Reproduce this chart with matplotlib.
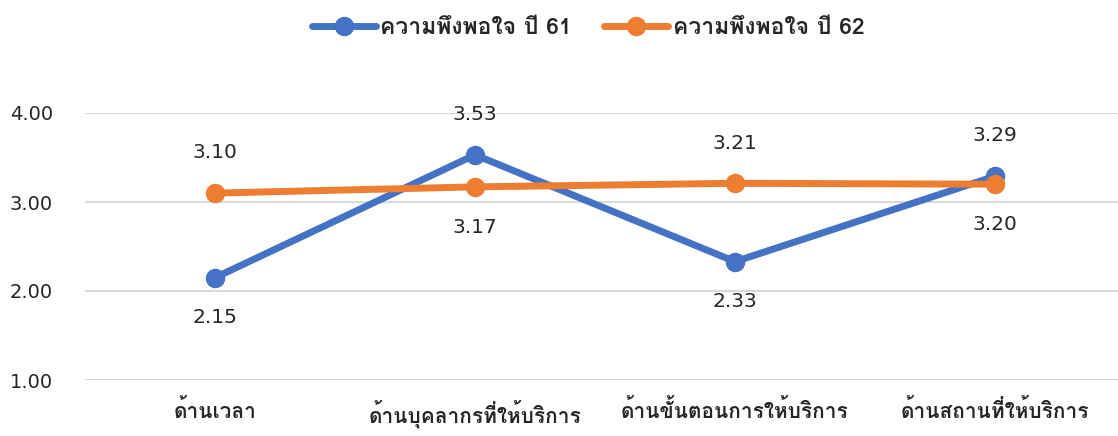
import matplotlib
matplotlib.use("Agg")
import matplotlib.pyplot as plt
from matplotlib import font_manager
from matplotlib.ft2font import FT2Font

# ---------------- data ----------------
categories = ["ด้านเวลา", "ด้านบุคลากรที่ให้บริการ", "ด้านขั้นตอนการให้บริการ", "ด้านสถานที่ให้บริการ"]
series_names = ["ความพึงพอใจ ปี 61", "ความพึงพอใจ ปี 62"]
sat_61 = [2.15, 3.53, 2.33, 3.29]
sat_62 = [3.10, 3.17, 3.21, 3.20]
y_ticks = [1.00, 2.00, 3.00, 4.00]

BLUE = "#4472C4"
ORANGE = "#ED7D31"
TXT = "#262626"


def find_thai_font():
    """Busca una fuente instalada con glifos tailandeses."""
    for f in font_manager.fontManager.ttflist:
        try:
            ft = FT2Font(f.fname)
            if ft.get_char_index(0x0E01) and ft.get_char_index(0x0E49):
                return f.name
        except Exception:
            continue
    return None


thai = find_thai_font()
families = [thai, "DejaVu Sans"] if thai else ["DejaVu Sans"]
plt.rcParams["font.family"] = families

fig = plt.figure(figsize=(11.18, 4.36), dpi=100)
ax = fig.add_axes([85 / 1118, 1 - 380 / 436, 1040 / 1118, 267 / 436])

x = list(range(len(categories)))
l1, = ax.plot(x, sat_61, color=BLUE, lw=5, marker="o", ms=13,
              solid_capstyle="round", label=series_names[0], zorder=3)
l2, = ax.plot(x, sat_62, color=ORANGE, lw=5, marker="o", ms=13,
              solid_capstyle="round", label=series_names[1], zorder=4)

# posiciones de etiquetas: +1 arriba, -1 abajo
pos_61 = [-1, 1, -1, 1]
pos_62 = [1, -1, 1, -1]
for vals, pos in ((sat_61, pos_61), (sat_62, pos_62)):
    for xi, v, p in zip(x, vals, pos):
        ax.annotate(f"{v:.2f}", (xi, v), xytext=(0, 29 * p),
                    textcoords="offset points", ha="center", va="center",
                    fontsize=14.5, color=TXT, family="DejaVu Sans")

ax.set_xlim(-0.5, 3.5)
ax.set_ylim(1, 4)
ax.set_yticks(y_ticks)
ax.set_yticklabels([f"{t:.2f}" for t in y_ticks], fontsize=14, color=TXT,
                   family="DejaVu Sans")
ax.set_xticks(x)
ax.set_xticklabels(categories, fontsize=15, color=TXT, fontweight="bold")
ax.tick_params(length=0)
ax.tick_params(axis="x", pad=14)
ax.tick_params(axis="y", pad=23)
ax.grid(axis="y", color="#D9D9D9", lw=1.5)
ax.set_axisbelow(True)
for s in ax.spines.values():
    s.set_visible(False)

leg = fig.legend(handles=[l1, l2], loc="center", bbox_to_anchor=(0.526, 0.936),
                 ncol=2, frameon=False, prop={"size": 16.5, "weight": "bold"},
                 handlelength=2.8, handletextpad=0.2, columnspacing=1.4)
for t in leg.get_texts():
    t.set_color(TXT)

fig.savefig("out.png", dpi=100)
